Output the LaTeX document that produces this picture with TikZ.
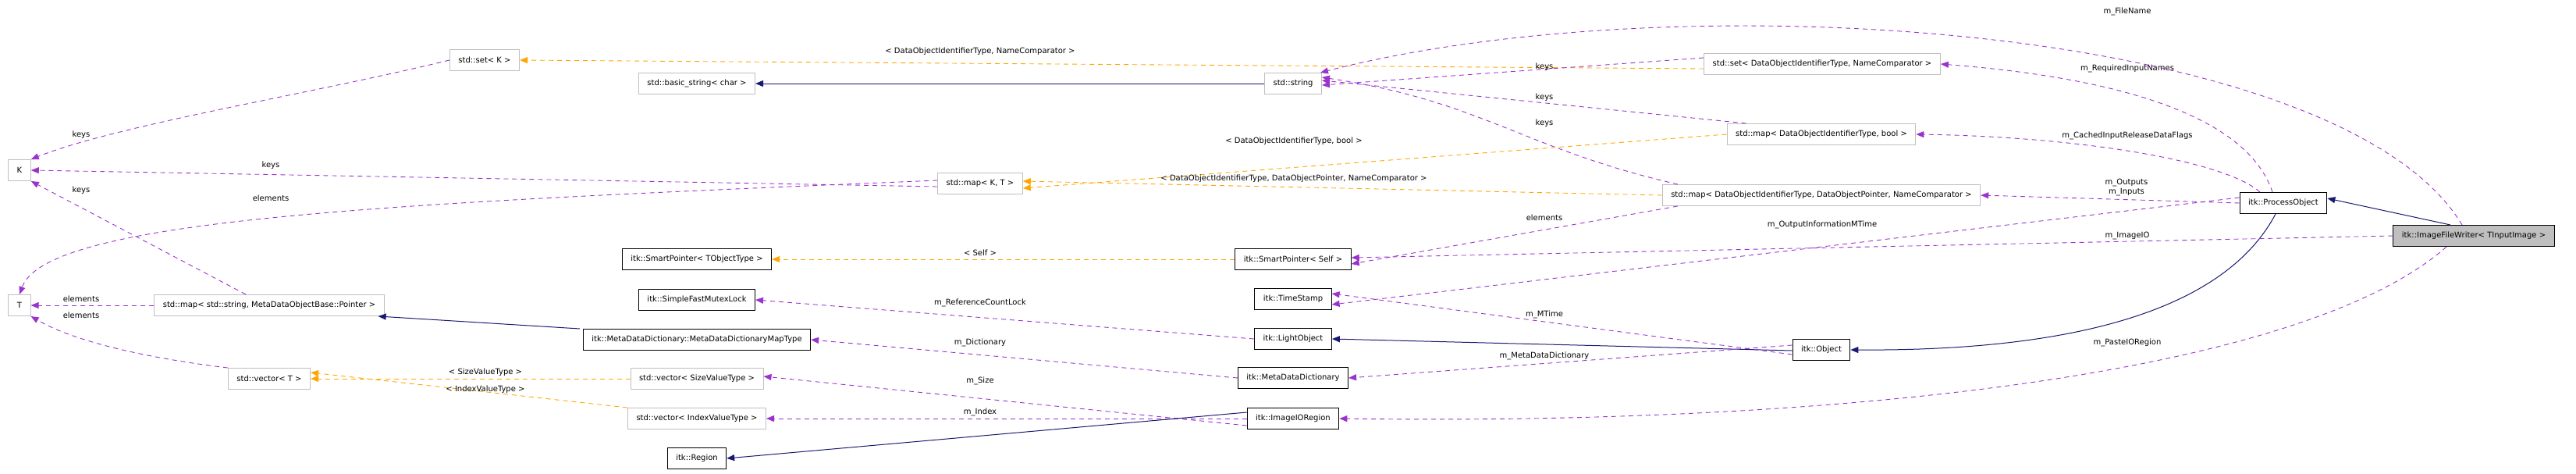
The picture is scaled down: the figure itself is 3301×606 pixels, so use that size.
\documentclass[tikz,border=0pt]{standalone}
\usepackage{fontspec}
\setmainfont{DejaVu Sans}
\usetikzlibrary{arrows.meta}
\definecolor{usecol}{HTML}{9A32CD}
\definecolor{tplcol}{HTML}{FFA500}
\definecolor{inhcol}{HTML}{191970}
\tikzstyle{cls} = [draw=black, fill=white, line width=1pt, rectangle,
    minimum height=27pt, inner xsep=11pt, font=\fontsize{10}{12}\selectfont]
\tikzstyle{ext} = [cls, draw=gray!50]
\tikzstyle{main} = [cls, fill=gray!50]
\tikzstyle{lbl} = [font=\fontsize{10}{12}\selectfont, inner sep=1pt]
\tikzstyle{use} = [draw=usecol, line width=0.9pt, dash pattern=on 6pt off 5pt,
    -{Triangle[length=10pt,width=8pt]}]
\tikzstyle{tpl} = [use, draw=tplcol]
\tikzstyle{inh} = [draw=inhcol, line width=1pt, -{Triangle[length=10pt,width=8pt]}]

\begin{document}
\begin{tikzpicture}[x=1pt, y=-1pt]
    \useasboundingbox (0,0) rectangle (3301,606);
    % classes
    \node [ext] (K) at (25,218) {K};
    \node [ext] (T) at (25,391) {T};
    \node [ext] (setK) at (621,77) {std::set< K >};
    \node [ext] (mapStr) at (345,391) {std::map< std::string, MetaDataObjectBase::Pointer >};
    \node [ext] (vecT) at (345,485) {std::vector< T >};
    \node [ext] (basicStr) at (893,107) {std::basic\_string< char >};
    \node [cls] (spObj) at (893,332) {itk::SmartPointer< TObjectType >};
    \node [cls] (mutex) at (893,384) {itk::SimpleFastMutexLock};
    \node [cls] (mapType) at (893,435) {itk::MetaDataDictionary::MetaDataDictionaryMapType};
    \node [ext] (vecSize) at (893,485) {std::vector< SizeValueType >};
    \node [ext] (vecIndex) at (893,536) {std::vector< IndexValueType >};
    \node [cls] (region) at (893,587) {itk::Region};
    \node [ext] (mapKT) at (1256,235) {std::map< K, T >};
    \node [ext] (str) at (1657,107) {std::string};
    \node [cls] (spSelf) at (1657,332) {itk::SmartPointer< Self >};
    \node [cls] (stamp) at (1657,383) {itk::TimeStamp};
    \node [cls] (light) at (1657,434) {itk::LightObject};
    \node [cls] (dict) at (1657,484) {itk::MetaDataDictionary};
    \node [cls] (ioRegion) at (1657,536) {itk::ImageIORegion};
    \node [ext] (setId) at (2335,82) {std::set< DataObjectIdentifierType, NameComparator >};
    \node [ext] (mapBool) at (2334,172) {std::map< DataObjectIdentifierType, bool >};
    \node [ext] (mapPtr) at (2334,250) {std::map< DataObjectIdentifierType, DataObjectPointer, NameComparator >};
    \node [cls] (object) at (2334,448) {itk::Object};
    \node [cls] (process) at (2926,260) {itk::ProcessObject};
    \node [main] (writer) at (3170,302) {itk::ImageFileWriter< TInputImage >};

    % std containers
    \draw [use] (setK.west) .. controls (400,120) and (150,160) .. (K.north east)
        node [lbl] at (104,173) {keys};
    \draw [use] ([yshift=-4pt]mapKT.west) -- (K.east) node [lbl] at (347,212) {keys};
    \draw [use] ([yshift=4pt]mapKT.west) .. controls (500,260) and (60,280) .. (T.north)
        node [lbl] at (347,254) {elements};
    \draw [use] ([xshift=-30pt]mapStr.north) -- (K.south east) node [lbl] at (104,244) {keys};
    \draw [use] (mapStr) -- (T) node [lbl] at (104,383) {elements};
    \draw [use] (vecT.north west) .. controls (200,460) and (100,440) .. (T.south east)
        node [lbl] at (104,404) {elements};
    \draw [inh] ([xshift=-150pt]mapType.north) -- ([xshift=-8pt]mapStr.south east);
    \draw [tpl] (vecSize) -- (vecT) node [lbl] at (622,477) {< SizeValueType >};
    \draw [tpl] (vecIndex.north west) -- ([yshift=8pt]vecT.east) node [lbl] at (622,499) {< IndexValueType >};
    \draw [inh] (str) -- (basicStr);
    \draw [tpl] ([yshift=-6pt]setId.west) -- (setK.east)
        node [lbl] at (1256,66) {< DataObjectIdentifierType, NameComparator >};
    \draw [use] ([yshift=8pt]setId.west) -- ([yshift=-2pt]str.east) node [lbl] at (1979,86) {keys};
    \draw [use] ([xshift=25pt]mapBool.north west) -- ([yshift=4pt]str.east)
        node [lbl] at (1979,125) {keys};
    \draw [use] ([xshift=20pt]mapPtr.north west) .. controls (1950,190) and (1900,130) .. ([yshift=8pt]str.east)
        node [lbl] at (1979,158) {keys};
    \draw [tpl] (mapBool.west) -- ([yshift=-6pt]mapKT.east)
        node [lbl] at (1658,181) {< DataObjectIdentifierType, bool >};
    \draw [tpl] (mapPtr.west) -- ([yshift=3pt]mapKT.east)
        node [lbl] at (1658,229) {< DataObjectIdentifierType, DataObjectPointer, NameComparator >};
    \draw [use] ([xshift=20pt]mapPtr.south west) -- ([yshift=-6pt]spSelf.east)
        node [lbl] at (1979,279) {elements};
    \draw [tpl] (spSelf) -- (spObj) node [lbl] at (1256,324) {< Self >};

    % itk members
    \draw [use] (light.west) -- (mutex.east) node [lbl] at (1256,388) {m\_ReferenceCountLock};
    \draw [use] (dict.west) -- (mapType.east) node [lbl] at (1256,439) {m\_Dictionary};
    \draw [use] ([yshift=-9pt]ioRegion.west) -- ([yshift=3pt]vecSize.east) node [lbl] at (1256,488) {m\_Size};
    \draw [use] (ioRegion.west) -- (vecIndex.east) node [lbl] at (1256,528) {m\_Index};
    \draw [inh] ([yshift=8pt]ioRegion.west) -- (region.east);
    \draw [inh] ([yshift=-1pt]object.west) -- (light.east);
    \draw [use] ([yshift=-6pt]object.west) -- ([yshift=7pt]stamp.east) node [lbl] at (1979,403) {m\_MTime};
    \draw [use] ([yshift=6pt]object.west) -- (dict.east) node [lbl] at (1979,456) {m\_MetaDataDictionary};
    \draw [inh] ([xshift=-10pt]process.south) .. controls (2860,380) and (2700,450) .. (object.east);
    \draw [use] ([xshift=-14pt]process.north) .. controls (2880,150) and (2720,100) .. (setId.east)
        node [lbl] at (2726,88) {m\_RequiredInputNames};
    \draw [use] ([xshift=-30pt]process.north) .. controls (2850,205) and (2660,175) .. (mapBool.east)
        node [lbl] at (2726,174) {m\_CachedInputReleaseDataFlags};
    \draw [use] (process.west) -- (mapPtr.east) node [lbl, align=center] at (2725,240) {m\_Outputs\\m\_Inputs};
    \draw [use] ([yshift=7pt]process.west) -- ([yshift=-7pt]stamp.east)
        node [lbl] at (2335,288) {m\_OutputInformationMTime};
    \draw [inh] ([xshift=-30pt]writer.north) -- ([yshift=6pt]process.east);
    \draw [use] ([xshift=-15pt]writer.north) .. controls (3000,30) and (2150,-25) .. ([xshift=-2pt]str.north east)
        node [lbl] at (2726,15) {m\_FileName};
    \draw [use] (writer.west) -- ([yshift=2pt]spSelf.east) node [lbl] at (2726,302) {m\_ImageIO};
    \draw [use] ([xshift=-35pt]writer.south) .. controls (2950,480) and (2350,545) .. (ioRegion.east)
        node [lbl] at (2726,439) {m\_PasteIORegion};
\end{tikzpicture}
\end{document}
